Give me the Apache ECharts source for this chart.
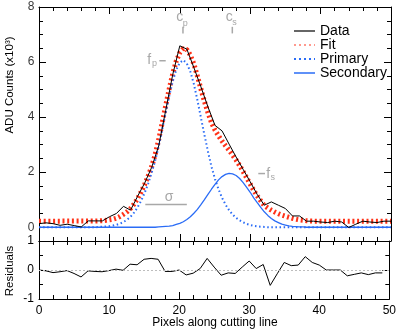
<!DOCTYPE html>
<html><head><meta charset="utf-8">
<script src="https://cdn.jsdelivr.net/npm/echarts@6/dist/echarts.min.js"></script>
<style>html,body{margin:0;padding:0;background:#fff}#c{width:399px;height:331px}</style>
</head><body><div id="c"></div>
<script>
// ---- data ----
const pixelX = [0,1,2,3,4,5,6,7,8,9,10,11,12,13,14,15,16,17,18,19,20,21,22,23,24,25,26,27,28,29,30,31,32,33,34,35,36,37,38,39,40,41,42,43,44,45,46,47,48,49,50];
const dataCounts = [0.13,0.16,0.13,0.07,0.11,0.06,0.01,0.23,0.23,0.23,
  0.38,0.5,0.76,0.62,1.12,1.6,2.17,2.95,4.25,5.55,
  6.59,6.47,5.8,5.1,4.37,3.7,3.5,3.02,2.55,2.1,
  1.65,1.19,0.8,0.92,0.8,0.68,0.41,0.41,0.22,0.22,
  0.19,0.17,0.22,0.19,-0.01,0.11,0.22,0.19,0.17,0.22,0.22];
const residX = [0,1,2,3,4,5,6,7,8,9,10,11,12,13,14,15,16,17,18,19,20,21,22,23,24,25,26,27,28,29,30,31,32,33,34,35,36,37,38,39,40,41,42,43,44,45,46,47,48,49];
const residuals = [0,-0.03,-0.09,-0.06,-0.02,-0.12,-0.24,-0.03,-0.05,-0.06,
  -0.02,0.03,-0.01,0.2,0.18,0.37,0.4,0.37,-0.05,-0.05,
  0.0,-0.17,-0.11,0.05,0.4,0.1,-0.18,-0.1,-0.12,0.1,
  0.31,0.05,0.19,-0.53,-0.13,0.26,0.15,0.17,0.46,0.26,
  0.17,0.0,0.0,0.0,-0.2,-0.15,-0.1,-0.16,-0.1,-0.1];
const modelX = [0,8,8.5,9,9.5,10,10.5,11,11.5,12,12.5,13,13.5,14,14.5,15,15.5,16,16.5,17,17.5,
  18,18.5,19,19.5,20,20.5,21,21.5,22,22.5,23,23.5,24,24.5,25,25.5,26,26.5,27,27.5,
  28,28.5,29,29.5,30,30.5,31,31.5,32,32.5,33,33.5,34,34.5,35,35.5,36,36.5,37,37.5,38,38.5,39,50];
const fitCounts = [0.22,
  0.225,0.23,0.24,0.25,0.27,0.29,0.33,0.39,0.47,0.56,
  0.68,0.84,1.04,1.28,1.55,1.86,2.2,2.64,3.18,3.79,
  4.42,5.03,5.58,6.04,6.34,6.49,6.45,6.25,5.93,5.49,
  5.02,4.57,4.16,3.8,3.53,3.32,3.13,2.96,2.8,2.62,
  2.44,2.24,2.02,1.79,1.57,1.34,1.14,0.96,0.79,0.7,
  0.62,0.55,0.49,0.44,0.4,0.36,0.32,0.29,0.265,0.25,
  0.235,0.225,0.22,
  0.22];
const primaryCounts = [0,
  0,0.01,0.02,0.03,0.04,0.06,0.09,0.13,0.19,0.27,
  0.38,0.53,0.72,0.96,1.24,1.58,1.97,2.42,2.95,3.55,
  4.17,4.77,5.3,5.72,5.98,6.07,5.95,5.65,5.2,4.62,
  3.98,3.35,2.75,2.2,1.75,1.38,1.07,0.82,0.62,0.46,
  0.34,0.25,0.18,0.12,0.08,0.05,0.03,0.02,0.01,0,
  0,0,0,0,0,0,0,0,0,0,
  0,0,0,
  0];
const secondaryCounts = [0,
  0,0,0,0,0,0,0,0,0,0,0,0,0,0,0,0,0,0,
  0.01,0.02,0.03,0.04,0.06,0.1,0.14,0.2,0.28,0.38,
  0.51,0.65,0.82,1.0,1.19,1.38,1.56,1.72,1.84,1.92,
  1.96,1.94,1.88,1.77,1.62,1.45,1.27,1.07,0.89,0.72,
  0.56,0.43,0.32,0.23,0.17,0.11,0.08,0.05,0.03,0.02,
  0.01,0.01,0,0,0,
  0];
const mainYTicks = [0,2,4,6,8];
const mainYLabels = ['0','2','4','6','8'];
const seriesNames = ['Data','Fit','Primary','Secondary'];
// annotation anchors (data coordinates)
const cpX = 20.45, csX = 27.46, tickBaseY = 7.04;
const fpX = 18.0, fpY = 6.07, fsX = 31.15, fsY = 1.95;
const sigmaX = [15.1, 21.0], sigmaY = 0.83;

const FONT = '"Liberation Sans", Arial, sans-serif';
const BLUE = '#2a6cf6', RED = '#ff3218', GRAY = '#a8a8a8';
const zip = (xs, ys) => xs.map((x, i) => [x, ys[i]]);

function xAx(grid, pos, labels) {
  return {type:'value', gridIndex:grid, position:pos, min:0, max:50, interval:10,
    axisLine:{show:true, onZero:false, lineStyle:{color:'#000', width:1}},
    axisTick:{show:true, inside:true, length:7, lineStyle:{color:'#000'}},
    minorTick:{show:true, splitNumber:5, length:4, lineStyle:{color:'#000'}},
    splitLine:{show:false}, minorSplitLine:{show:false},
    axisLabel:{show:labels, color:'#000', fontSize:12, fontFamily:FONT, margin:6}};
}
function yMain(pos) {
  return {type:'value', gridIndex:0, position:pos, min:-0.5, max:8, interval:0.5,
    axisLine:{show:true, onZero:false, lineStyle:{color:'#000', width:1}},
    axisTick:{show:true, inside:true, length:4, lineStyle:{color:'#000'}},
    splitLine:{show:false}, axisLabel:{show:false}};
}
function yMainMajor(pos) {
  return {type:'value', gridIndex:0, position:pos, min:-0.5, max:8,
    axisLine:{show:false, onZero:false},
    axisTick:{show:true, inside:true, length:7, customValues:mainYTicks, lineStyle:{color:'#000'}},
    splitLine:{show:false}, axisLabel:{show:false}};
}
function yRes(pos, labels) {
  return {type:'value', gridIndex:1, position:pos, min:-1, max:1, interval:1,
    axisLine:{show:true, onZero:false, lineStyle:{color:'#000', width:1}},
    axisTick:{show:true, inside:true, length:7, lineStyle:{color:'#000'}},
    minorTick:{show:true, splitNumber:2, length:4, lineStyle:{color:'#000'}},
    splitLine:{show:false}, minorSplitLine:{show:false},
    axisLabel:{show:labels, color:'#000', fontSize:12, fontFamily:FONT, margin:5}};
}

const hideSym = {opacity:0, color:'rgba(0,0,0,0)', borderWidth:0};
const chart = echarts.init(document.getElementById('c'), null, {renderer:'canvas'});
chart.setOption({
  animation:false,
  backgroundColor:'#fff',
  grid:[{left:39, right:8, top:7, height:234},
        {left:39, right:8, top:241, height:58}],
  xAxis:[xAx(0,'bottom',false), xAx(0,'top',false), xAx(1,'bottom',true), xAx(1,'top',false)],
  yAxis:[yMain('left'), yMainMajor('left'), yMain('right'), yMainMajor('right'),
         yRes('left',true), yRes('right',false)],
  legend:{orient:'vertical', left:288, top:19, itemWidth:21, itemHeight:8, itemGap:0,
    itemStyle:hideSym,
    textStyle:{fontSize:14, fontFamily:FONT, color:'#000', lineHeight:14},
    data:[
      {name:seriesNames[0], itemStyle:hideSym, lineStyle:{color:'#000', width:1.2}},
      {name:seriesNames[1], itemStyle:hideSym, lineStyle:{color:'rgba(255,70,50,0.55)', width:2, type:[2,3]}},
      {name:seriesNames[2], itemStyle:hideSym, lineStyle:{color:BLUE, width:2, type:[2,3]}},
      {name:seriesNames[3], itemStyle:hideSym, lineStyle:{color:BLUE, width:1.5}}
    ]},
  series:[
    {name:seriesNames[1], type:'line', xAxisIndex:0, yAxisIndex:0, data:zip(modelX, fitCounts),
      symbol:'none', z:2, lineStyle:{color:RED, width:5, type:[2,2.7], cap:'butt'}, itemStyle:{color:RED}},
    {name:seriesNames[2], type:'line', xAxisIndex:0, yAxisIndex:0, data:zip(modelX, primaryCounts),
      symbol:'none', z:3, lineStyle:{color:BLUE, width:2, type:[1.5,2.6], cap:'butt'}, itemStyle:{color:BLUE}},
    {name:seriesNames[3], type:'line', xAxisIndex:0, yAxisIndex:0, data:zip(modelX, secondaryCounts),
      symbol:'none', z:3, lineStyle:{color:BLUE, width:1.3}, itemStyle:{color:BLUE}},
    {name:seriesNames[0], type:'line', xAxisIndex:0, yAxisIndex:0, data:zip(pixelX, dataCounts),
      symbol:'none', z:4, lineStyle:{color:'#000', width:1}, itemStyle:{color:'#000'}},
    {name:'Residuals', type:'line', xAxisIndex:2, yAxisIndex:4, data:zip(residX, residuals),
      symbol:'none', z:4, lineStyle:{color:'#000', width:1}, itemStyle:{color:'#000'},
      markLine:{silent:true, symbol:'none', label:{show:false},
        lineStyle:{color:'#bdbdbd', type:[2,2], width:1}, data:[{yAxis:0}]}},
    // main y tick labels as point labels on the axis scale
    {name:'yLabels', type:'scatter', xAxisIndex:0, yAxisIndex:0, clip:false, silent:true,
      symbol:'circle', symbolSize:1, itemStyle:{color:'rgba(0,0,0,0)'}, z:20,
      labelLayout:{hideOverlap:false, moveOverlap:null},
      label:{show:true, position:'left', distance:4, color:'#000', fontSize:12, fontFamily:FONT,
        formatter: p => mainYLabels[p.dataIndex]},
      data: mainYTicks.map(t => [0, t])}
  ]
});

function addAnnotations() {
  const P = (x, y) => chart.convertToPixel({xAxisIndex:0, yAxisIndex:0}, [x, y]);
  const txt = (x, y, s, size) => ({type:'text', silent:true, z:10, x:x, y:y,
    style:{text:s, fill:GRAY, font: size + 'px ' + FONT, textAlign:'center', textVerticalAlign:'middle', align:'center', verticalAlign:'middle'}});
  const ln = (x1, y1, x2, y2) => ({type:'line', silent:true, z:10,
    shape:{x1:x1, y1:y1, x2:x2, y2:y2}, style:{stroke:GRAY, lineWidth:1.5}});
  const g = [];
  const cp = P(cpX, tickBaseY);
  g.push(ln(cp[0], cp[1] - 6.6, cp[0], cp[1]));
  g.push(txt(cp[0] - 3.3, cp[1] - 16.5, 'c', 14));
  g.push(txt(cp[0] + 2.4, cp[1] - 9.6, 'p', 9));
  const cs = P(csX, tickBaseY);
  g.push(ln(cs[0], cs[1] - 6.6, cs[0], cs[1]));
  g.push(txt(cs[0] - 3.1, cs[1] - 16.2, 'c', 14));
  g.push(txt(cs[0] + 2.2, cs[1] - 10.8, 's', 9));
  const fp = P(fpX, fpY);
  g.push(ln(fp[0] - 6.4, fp[1] + 0.6, fp[0], fp[1] + 0.6));
  g.push(txt(fp[0] - 16.5, fp[1] + 0.3, 'f', 14));
  g.push(txt(fp[0] - 11.3, fp[1] + 3.6, 'p', 9));
  const fs = P(fsX, fsY);
  g.push(ln(fs[0], fs[1], fs[0] + 6.7, fs[1]));
  g.push(txt(fs[0] + 10, fs[1] + 0.1, 'f', 14));
  g.push(txt(fs[0] + 14.4, fs[1] + 4.1, 's', 9));
  const s1 = P(sigmaX[0], sigmaY), s2 = P(sigmaX[1], sigmaY);
  g.push(ln(s1[0], s1[1], s2[0], s2[1]));
  g.push(txt((s1[0] + s2[0]) / 2 + 3, s1[1] - 7.5, 'σ', 14));
  // axis titles
  g.push({type:'text', silent:true, x:10, y:85, rotation:Math.PI / 2,
    style:{text:'ADU Counts (x10³)', fill:'#000', font:'11.5px ' + FONT, align:'center', verticalAlign:'middle', textAlign:'center', textVerticalAlign:'middle'}});
  g.push({type:'text', silent:true, x:10, y:271, rotation:Math.PI / 2,
    style:{text:'Residuals', fill:'#000', font:'11.5px ' + FONT, align:'center', verticalAlign:'middle', textAlign:'center', textVerticalAlign:'middle'}});
  g.push({type:'text', silent:true, x:215, y:323,
    style:{text:'Pixels along cutting line', fill:'#000', font:'12px ' + FONT, align:'center', verticalAlign:'middle', textAlign:'center', textVerticalAlign:'middle'}});
  chart.setOption({graphic:g});
}
addAnnotations();
</script>
</body></html>
